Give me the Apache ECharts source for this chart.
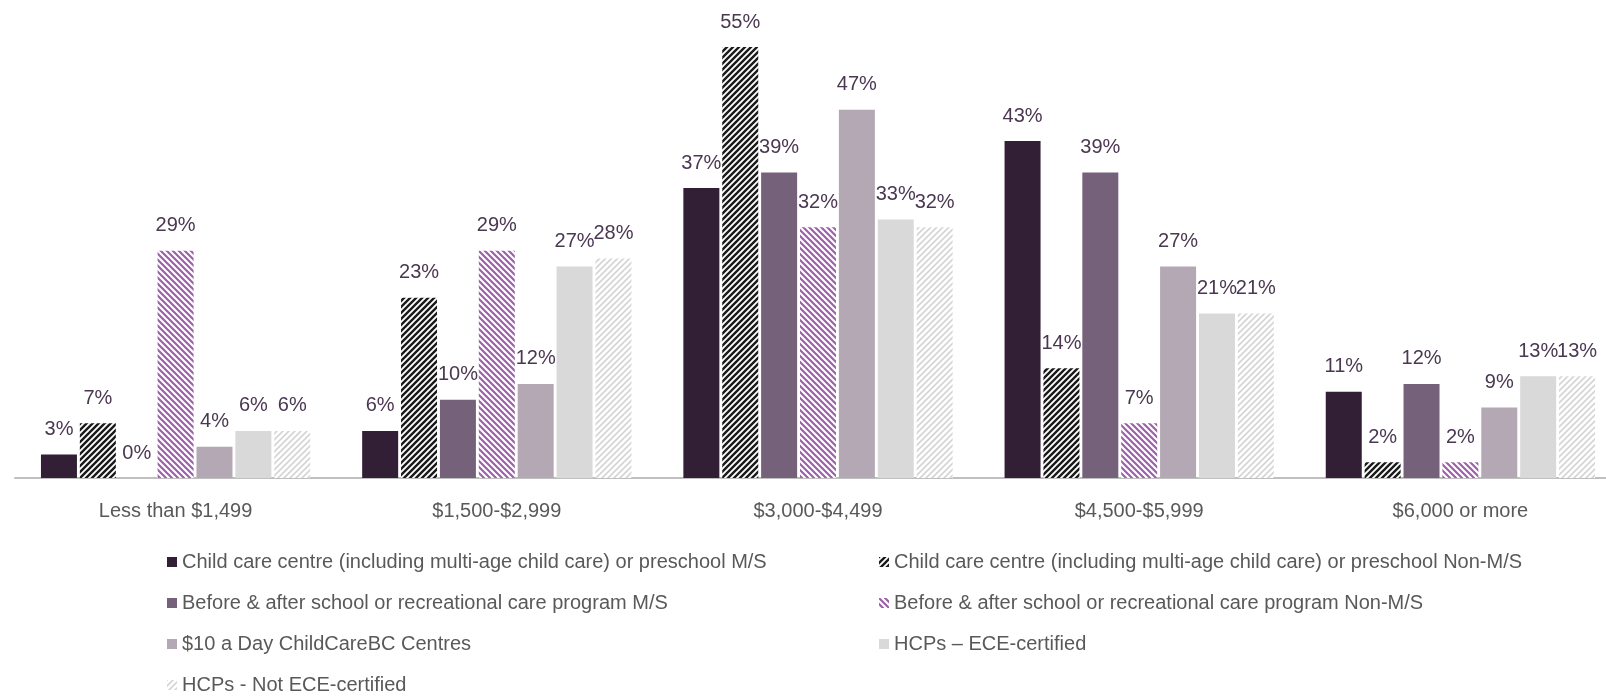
<!DOCTYPE html>
<html><head><meta charset="utf-8">
<script src="https://cdn.jsdelivr.net/npm/echarts@6/dist/echarts.min.js"></script>
<style>html,body{margin:0;padding:0;background:#fff}#c{width:1606px;height:697px}</style>
</head><body><div id="c"></div>
<script>
const categories = ['Less than $1,499', '$1,500-$2,999', '$3,000-$4,499', '$4,500-$5,999', '$6,000 or more'];
const seriesNames = [
  'Child care centre (including multi-age child care) or preschool M/S',
  'Child care centre (including multi-age child care) or preschool Non-M/S',
  'Before & after school or recreational care program M/S',
  'Before & after school or recreational care program Non-M/S',
  '$10 a Day ChildCareBC Centres',
  'HCPs \u2013 ECE-certified',
  'HCPs - Not ECE-certified'
];
const cccMS = [3, 6, 37, 43, 11];
const cccNonMS = [7, 23, 55, 14, 2];
const basMS = [0, 10, 39, 39, 12];
const basNonMS = [29, 29, 32, 7, 2];
const tenADay = [4, 12, 47, 27, 9];
const hcpECE = [6, 27, 33, 21, 13];
const hcpNotECE = [6, 28, 32, 21, 13];

function stripes(color, dir, lw) {
  const p = 6;
  const cv = document.createElement('canvas');
  cv.width = p; cv.height = p;
  const ctx = cv.getContext('2d');
  ctx.fillStyle = '#fff'; ctx.fillRect(0, 0, p, p);
  ctx.strokeStyle = color; ctx.lineWidth = lw; ctx.lineCap = 'square';
  ctx.beginPath();
  if (dir === '/') {
    ctx.moveTo(0, p); ctx.lineTo(p, 0);
    ctx.moveTo(-1, 1); ctx.lineTo(1, -1);
    ctx.moveTo(p - 1, p + 1); ctx.lineTo(p + 1, p - 1);
  } else {
    ctx.moveTo(0, 0); ctx.lineTo(p, p);
    ctx.moveTo(p - 1, -1); ctx.lineTo(p + 1, 1);
    ctx.moveTo(-1, p - 1); ctx.lineTo(1, p + 1);
  }
  ctx.stroke();
  return { image: cv, repeat: 'repeat' };
}

const FONT = '"Liberation Sans", Arial, sans-serif';
const colors = ['#331F35', stripes('#1a1a1a', '/', 2.4), '#75627A', stripes('#9B62A8', '\\', 2.2), '#B4A8B5', '#D9D9D9', stripes('#D4D4D4', '/', 1.6)];
const values = [cccMS, cccNonMS, basMS, basNonMS, tenADay, hcpECE, hcpNotECE];

const series = values.map((v, i) => ({
  name: seriesNames[i],
  type: 'bar',
  data: v,
  barWidth: 36,
  barGap: '8%',
  itemStyle: { color: colors[i] },
  label: {
    show: true, position: 'top', distance: 15,
    formatter: '{c}%', color: '#4B3752', fontSize: 20, fontFamily: FONT
  }
}));

const legendCommon = {
  orient: 'vertical', icon: 'rect', itemWidth: 10, itemHeight: 10, itemGap: 19,
  padding: 0,
  textStyle: { fontSize: 20, lineHeight: 22, color: '#595959', fontFamily: FONT },
  selectedMode: false, top: 551
};

const chart = echarts.init(document.getElementById('c'));
chart.setOption({
  animation: false,
  grid: { left: 15, width: 1606, top: 47, height: 431, containLabel: false, outerBoundsMode: 'none' },
  xAxis: {
    type: 'category', data: categories,
    axisLine: { lineStyle: { color: '#BFBFBF', width: 2 } },
    axisTick: { show: false },
    axisLabel: { fontSize: 20, color: '#595959', fontFamily: FONT, margin: 23 }
  },
  yAxis: { type: 'value', min: 0, max: 55, show: false, splitLine: { show: false } },
  legend: [
    Object.assign({ left: 167, data: [seriesNames[0], seriesNames[2], seriesNames[4], seriesNames[6]] }, legendCommon),
    Object.assign({ left: 879, data: [seriesNames[1], seriesNames[3], seriesNames[5]] }, legendCommon)
  ],
  series: series
});
</script></body></html>
